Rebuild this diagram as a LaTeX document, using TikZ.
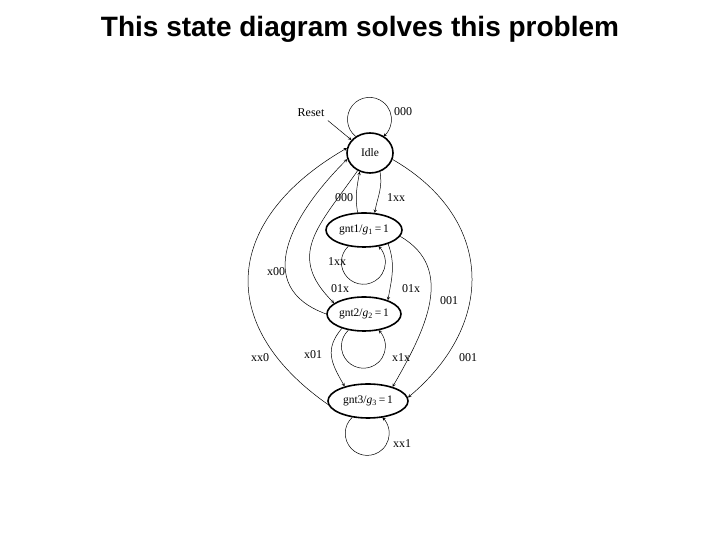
\documentclass[tikz,border=0pt]{standalone}
\usepackage{fontspec}
\setmainfont{Liberation Serif}
\newfontfamily\titlefont{Liberation Sans}
\usetikzlibrary{shapes.geometric}
\begin{document}
\begin{tikzpicture}[x=1pt,y=1pt,
        state/.style={ellipse, draw, line width=1.6pt, inner sep=0pt, font=\fontsize{11.5}{13}\selectfont},
        lbl/.style={font=\fontsize{12}{14}\selectfont},
        trans/.style={->, >=stealth, line width=0.5pt}]
        \useasboundingbox (0,0) rectangle (720,540);

        % Title
        \node[font=\titlefont\bfseries\fontsize{28}{32}\selectfont] (title) at (360,511) {This state diagram solves this problem};

        % States
        \node[state, minimum width=46pt, minimum height=40pt] (idle) at (370,387) {Idle};
        \node[state, minimum width=76pt, minimum height=34pt] (gnt1) at (364,310) {gnt1/\textit{g}\textsubscript{1}\,=\,1};
        \node[state, minimum width=74pt, minimum height=34pt] (gnt2) at (364,226) {gnt2/\textit{g}\textsubscript{2}\,=\,1};
        \node[state, minimum width=80pt, minimum height=34pt] (gnt3) at (368,139) {gnt3/\textit{g}\textsubscript{3}\,=\,1};

        % Reset
        \node[lbl] (reset) at (311,427) {Reset};
        \draw[trans] (reset.south east) -- (idle.145);

        % Self loops
        \draw[trans] (idle.131) arc[start angle=230.9, delta angle=-281.8, radius=22];
        \draw[trans] (gnt1.226) arc[start angle=133.3, delta angle=273.4, radius=22];
        \draw[trans] (gnt2.226) arc[start angle=133.3, delta angle=273.4, radius=22];
        \draw[trans] (gnt3.226) arc[start angle=133.3, delta angle=273.4, radius=22];

        % Transitions
        \draw[trans] (idle.298) to[out=-80, in=80] (gnt1.58);
        \draw[trans] (gnt1.110) to[out=100, in=-100] (idle.241);
        \draw[trans] (gnt1.330) to[out=-70, in=80] (gnt2.30);
        \draw[trans] (gnt1.350) to[out=-30, in=60, looseness=1.1] (gnt3.30);
        \draw[trans] (idle.344) to[out=-30, in=40, looseness=1.25] (gnt3.5);
        \draw[trans] (idle.235) to[out=235, in=135, looseness=1.3] (gnt2.160);
        \draw[trans] (gnt2.180) to[out=160, in=225, looseness=1.3] (idle.195);
        \draw[trans] (gnt3.185) to[out=145, in=210, looseness=1.4] (idle.168);
        \draw[trans] (gnt2.213) to[out=230, in=120, looseness=1.2] (gnt3.148);

        % Labels
        \node[lbl] (l-idle) at (403,428) {000};
        \node[lbl] (l-back1) at (344,342) {000};
        \node[lbl] (l-go1) at (396,342) {1xx};
        \node[lbl] (l-stay1) at (337,278) {1xx};
        \node[lbl] (l-idle2) at (340,251) {01x};
        \node[lbl] (l-go2) at (411,251) {01x};
        \node[lbl] (l-back2) at (276,268) {x00};
        \node[lbl] (l-one3) at (449,239) {001};
        \node[lbl] (l-back3) at (260,182) {xx0};
        \node[lbl] (l-two3) at (313,185) {x01};
        \node[lbl] (l-stay2) at (401,182) {x1x};
        \node[lbl] (l-idle3) at (468,182) {001};
        \node[lbl] (l-stay3) at (402,96) {xx1};
    \end{tikzpicture}
\end{document}
